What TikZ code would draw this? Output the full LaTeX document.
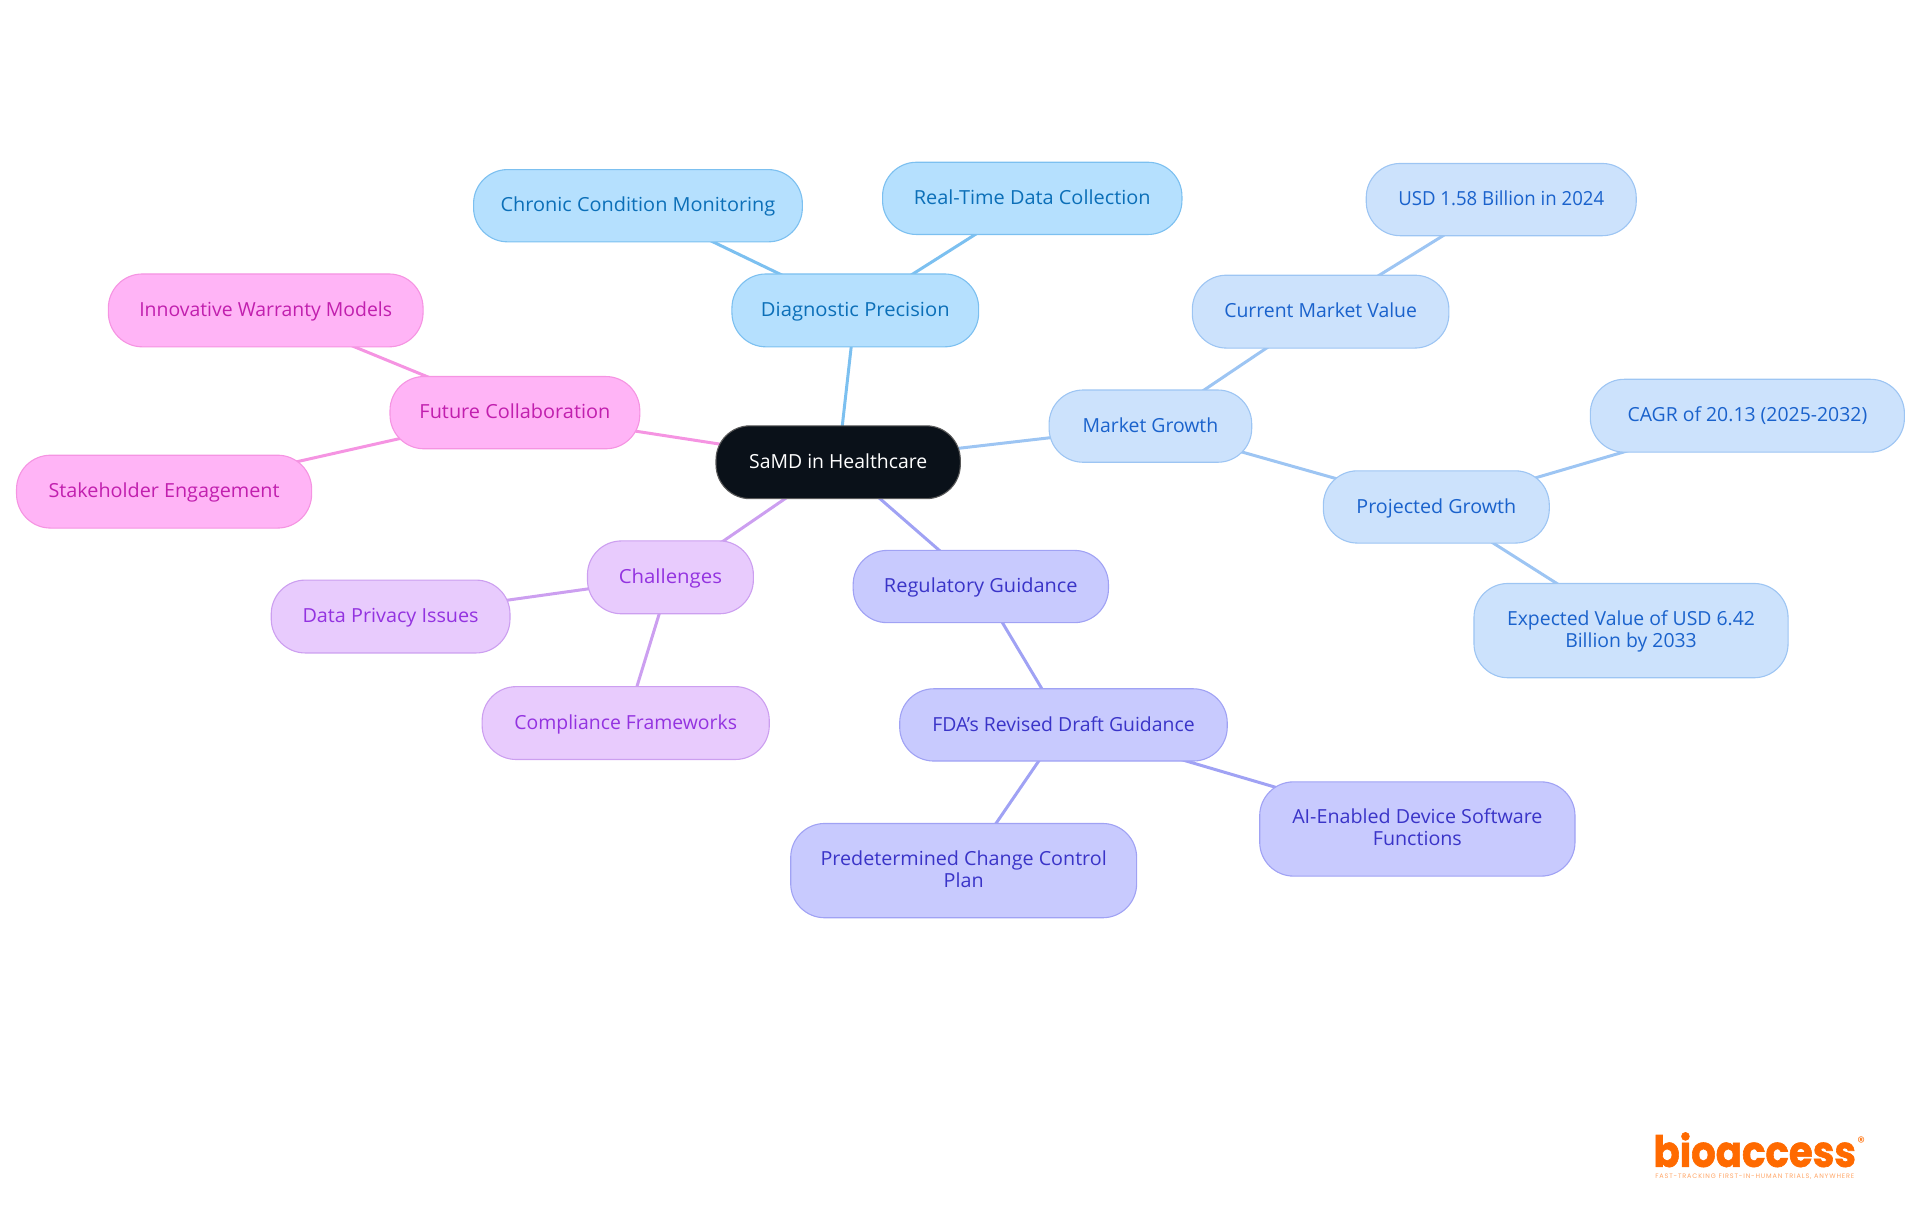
\documentclass[tikz,border=0pt]{standalone}
\usepackage{fontspec}
\setmainfont{Open Sans}
\newfontfamily\logofont[BoldFeatures={FakeBold=1.5}]{Poppins}
\usetikzlibrary{backgrounds}
\definecolor{rootfill}{HTML}{0A1119}
\definecolor{skyfill}{HTML}{B5E0FE}\definecolor{skyline}{HTML}{7CC0F0}\definecolor{skytext}{HTML}{0B6FB8}
\definecolor{bluefill}{HTML}{CCE2FC}\definecolor{blueline}{HTML}{9DC5F3}\definecolor{bluetext}{HTML}{1A62CC}
\definecolor{indfill}{HTML}{C8CAFE}\definecolor{indline}{HTML}{A0A2F4}\definecolor{indtext}{HTML}{3A34C8}
\definecolor{purfill}{HTML}{E8CBFD}\definecolor{purline}{HTML}{CC9FF0}\definecolor{purtext}{HTML}{9333E0}
\definecolor{pinkfill}{HTML}{FFB4F6}\definecolor{pinkline}{HTML}{F594E2}\definecolor{pinktext}{HTML}{C11FAE}
\definecolor{logoorange}{HTML}{FF6A00}
\tikzset{
  x=1.2245pt,y=-1.2245pt,
  mm/.style={rectangle,rounded corners=34pt,draw,line width=1.1pt,inner sep=0pt,font=\fontsize{19.4}{22}\selectfont},
  rootn/.style={mm,fill=rootfill,draw=gray!70!black,text=white},
  sky/.style={mm,fill=skyfill,draw=skyline,text=skytext},
  blu/.style={mm,fill=bluefill,draw=blueline,text=bluetext},
  ind/.style={mm,fill=indfill,draw=indline,text=indtext},
  pur/.style={mm,fill=purfill,draw=purline,text=purtext},
  pnk/.style={mm,fill=pinkfill,draw=pinkline,text=pinktext},
  lnk/.style={line width=3pt},
}
% one line, baseline 5 reference units under the centre; #1 horizontal stretch
\newcommand{\onel}[2]{\smash{\makebox[0pt]{\raisebox{-6.1pt}{\scalebox{#1}[1]{#2}}}}}
\newcommand{\twol}[3]{\smash{\makebox[0pt]{\raisebox{5pt}{\scalebox{#1}[1]{#2}}}\makebox[0pt]{\raisebox{-17pt}{\scalebox{#1}[1]{#3}}}}}
\newcommand{\mmnode}[6]{\node[#1,minimum width=#4*1.2245pt,minimum height=#5*1.2245pt] (#2) at (#3) {#6};}
\begin{document}
\begin{tikzpicture}
\useasboundingbox (0,0) rectangle (1568,992.25);
\mmnode{rootn}{root}{684.5,377.5}{199.5}{59.5}{\onel{1}{SaMD in Healthcare}}
\mmnode{sky}{diag}{698.5,253.5}{201.5}{59.5}{\onel{1.04}{Diagnostic Precision}}
\mmnode{sky}{chronic}{521,168}{268.5}{59}{\onel{1.027}{Chronic Condition Monitoring}}
\mmnode{sky}{realtime}{843,162}{244.5}{59}{\onel{1.027}{Real-Time Data Collection}}
\mmnode{blu}{market}{939.5,348}{165.5}{59}{\onel{1}{Market Growth}}
\mmnode{blu}{current}{1078.5,254.5}{209.5}{59.5}{\onel{1}{Current Market Value}}
\mmnode{blu}{usd}{1226,163}{220.5}{59}{\onel{0.96}{USD 1.58 Billion in 2024}}
\mmnode{blu}{projected}{1173,414}{184.5}{59}{\onel{1.015}{Projected Growth}}
\mmnode{blu}{cagr}{1427,339.5}{256.5}{59.5}{\onel{1}{CAGR of 20.13 (2025-2032)}}
\mmnode{blu}{expected}{1332,515}{256.5}{77}{\twol{1}{Expected Value of USD 6.42}{Billion by 2033}}
\mmnode{pnk}{future}{420.5,337}{204}{59}{\onel{1.026}{Future Collaboration}}
\mmnode{pnk}{warranty}{217,253.5}{257}{59.5}{\onel{1}{Innovative Warranty Models}}
\mmnode{pnk}{stake}{134,401.5}{241}{59.5}{\onel{1.02}{Stakeholder Engagement}}
\mmnode{pur}{chall}{547.5,471.5}{135.5}{59.5}{\onel{1.05}{Challenges}}
\mmnode{pur}{privacy}{319,503.5}{195}{59.5}{\onel{1.02}{Data Privacy Issues}}
\mmnode{pur}{compl}{511,590.5}{234.5}{59.5}{\onel{1}{Compliance Frameworks}}
\mmnode{ind}{reg}{801,479}{208.5}{59}{\onel{1.03}{Regulatory Guidance}}
\mmnode{ind}{fda}{868.5,592}{267.5}{59}{\onel{1}{FDA's Revised Draft Guidance}}
\mmnode{ind}{ai}{1157.5,677}{257.5}{77}{\twol{1.015}{AI-Enabled Device Software}{Functions}}
\mmnode{ind}{pccp}{787,711}{282.5}{77}{\twol{1.017}{Predetermined Change Control}{Plan}}
\begin{scope}[on background layer]
\draw[lnk,skyline] (root.center)--(diag.center) (diag.center)--(chronic.center) (diag.center)--(realtime.center);
\draw[lnk,blueline] (root.center)--(market.center) (market.center)--(current.center) (current.center)--(usd.center) (market.center)--(projected.center) (projected.center)--(cagr.center) (projected.center)--(expected.center);
\draw[lnk,pinkline] (root.center)--(future.center) (future.center)--(warranty.center) (future.center)--(stake.center);
\draw[lnk,purline] (root.center)--(chall.center) (chall.center)--(privacy.center) (chall.center)--(compl.center);
\draw[lnk,indline] (root.center)--(reg.center) (reg.center)--(fda.center) (fda.center)--(ai.center) (fda.center)--(pccp.center);
\end{scope}
\node[inner sep=0pt,text=logoorange,font=\logofont\bfseries\fontsize{43}{43}\selectfont] (logo) at (1433,939) {\scalebox{0.9}[1]{bioaccess}};
\node[inner sep=0pt,text=logoorange,font=\logofont\fontsize{15}{15}\selectfont] (regmark) at (1520,932.5) {\textregistered};
\node[inner sep=0pt,text=logoorange!60,font=\logofont\fontsize{6.5}{7}\selectfont\addfontfeature{LetterSpace=13}] (tag) at (1433,961) {FAST-TRACKING FIRST-IN-HUMAN TRIALS, ANYWHERE};
\end{tikzpicture}
\end{document}
